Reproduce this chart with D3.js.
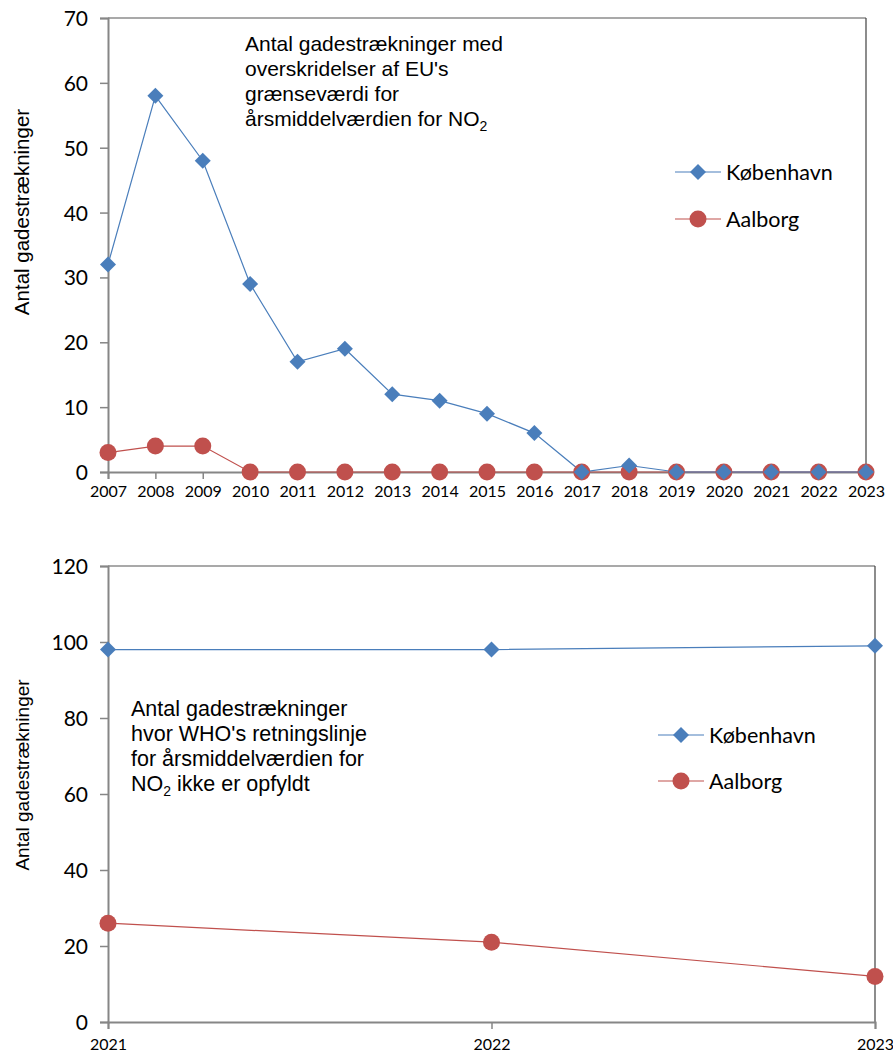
<!DOCTYPE html>
<html>
<head>
<meta charset="utf-8">
<script src="https://cdn.jsdelivr.net/npm/d3@7"></script>
<style>
  body { margin: 0; background: #fff; }
  svg { display: block; }
</style>
</head>
<body>
<svg id="chart" width="893" height="1057"></svg>
<script>
// Data for both panels
var years1 = [2007, 2008, 2009, 2010, 2011, 2012, 2013, 2014, 2015, 2016, 2017, 2018, 2019, 2020, 2021, 2022, 2023]
var kbh1 = [32, 58, 48, 29, 17, 19, 12, 11, 9, 6, 0, 1, 0, 0, 0, 0, 0]
var aal1 = [3, 4, 4, 0, 0, 0, 0, 0, 0, 0, 0, 0, 0, 0, 0, 0, 0]
var yTicks1 = [0, 10, 20, 30, 40, 50, 60, 70]

var years2 = [2021, 2022, 2023]
var kbh2 = [98, 98, 99]
var aal2 = [26, 21, 12]
var yTicks2 = [0, 20, 40, 60, 80, 100, 120]

var seriesNames = ["København", "Aalborg"]
var note1 = ["Antal gadestrækninger med", "overskridelser af EU's", "grænseværdi for", "årsmiddelværdien for NO|2"]
var note2 = ["Antal gadestrækninger", "hvor WHO's retningslinje", "for årsmiddelværdien for", "NO|2 ikke er opfyldt"]
var yTitle = "Antal gadestrækninger"

var blue = "#4a7ebb", red = "#c0504d", axisGray = "#868686"
var numFont = "Lato, 'Open Sans', sans-serif"
var textFont = "'Liberation Sans', Arial, sans-serif"

var svg = d3.select("#chart")

function panel(opts) {
    var g = svg.append("g")
    var x = d3.scalePoint().domain(opts.years).range([opts.left, opts.right])
    var y = d3.scaleLinear().domain([0, opts.yMax]).range([opts.bottom, opts.top])

    // frame: top (gray) and right (dark)
    g.append("line").attr("x1", opts.left).attr("x2", opts.right)
        .attr("y1", opts.top).attr("y2", opts.top)
        .attr("stroke", "#8c8c8c").attr("stroke-width", 1.5)
    g.append("line").attr("x1", opts.right).attr("x2", opts.right)
        .attr("y1", opts.top).attr("y2", opts.bottom)
        .attr("stroke", "#404040").attr("stroke-width", 1.2)

    var yAxis = g.append("g")
        .attr("transform", `translate(${opts.left},0)`)
        .call(d3.axisLeft(y).tickValues(opts.yTicks).tickSize(8).tickPadding(12))
    yAxis.select(".domain").attr("stroke", axisGray).attr("stroke-width", 2)
    yAxis.selectAll(".tick line").attr("stroke", axisGray).attr("stroke-width", 1.5)
    yAxis.selectAll("text").attr("font-family", numFont).attr("font-size", 21)
        .attr("fill", "#000").attr("dy", "0.36em")

    var xAxis = g.append("g")
        .attr("transform", `translate(0,${opts.bottom})`)
        .call(d3.axisBottom(x).tickSize(7).tickPadding(opts.xPad).tickFormat(d3.format("d")))
    xAxis.select(".domain").attr("stroke", axisGray).attr("stroke-width", 2)
    xAxis.selectAll(".tick line").attr("stroke", axisGray).attr("stroke-width", 1.5)
    xAxis.selectAll("text").attr("font-family", numFont).attr("font-size", 16).attr("fill", "#000")

    // y title
    g.append("text")
        .attr("transform", `translate(29,${opts.titleY})rotate(-90)`)
        .attr("text-anchor", "middle")
        .attr("font-family", textFont).attr("font-size", opts.titleSize)
        .text(yTitle)

    var line = d3.line().x((d, i) => x(opts.years[i])).y(d => y(d))

    g.append("path").datum(opts.aal).attr("d", line)
        .attr("fill", "none").attr("stroke", red).attr("stroke-width", 1.2)
    g.append("path").datum(opts.kbh).attr("d", line)
        .attr("fill", "none").attr("stroke", blue).attr("stroke-width", 1.2)

    g.selectAll(".aal").data(opts.aal).enter().append("circle")
        .attr("cx", (d, i) => x(opts.years[i])).attr("cy", d => y(d))
        .attr("r", 8.5).attr("fill", red)
    g.selectAll(".kbh").data(opts.kbh).enter().append("path")
        .attr("d", d3.symbol().type(d3.symbolSquare).size(128))
        .attr("transform", (d, i) => `translate(${x(opts.years[i])},${y(d)})rotate(45)`)
        .attr("fill", blue)

    // annotation
    var note = g.append("text").attr("font-family", textFont).attr("font-size", opts.noteSize).attr("fill", "#000")
    opts.note.forEach(function (s, i) {
        var t = note.append("tspan").attr("x", opts.noteX).attr("y", opts.noteY + i * 25)
        var parts = s.split("|")
        if (parts.length == 1) { t.text(s); return }
        var head = parts[0], sub = parts[1][0], rest = parts[1].slice(1)
        t.text(head)
        note.append("tspan").attr("font-size", 14).attr("dy", 5).text(sub)
        if (rest) note.append("tspan").attr("dy", -5).text(rest)
    })

    // legend
    var colors = [blue, red]
    seriesNames.forEach(function (name, i) {
        var ly = opts.legY + i * opts.legGap
        var lg = g.append("g")
        lg.append("line").attr("x1", opts.legX).attr("x2", opts.legX + 46)
            .attr("y1", ly).attr("y2", ly).attr("stroke", colors[i]).attr("stroke-width", 1.2)
        if (i == 0) {
            lg.append("path").attr("d", d3.symbol().type(d3.symbolSquare).size(128))
                .attr("transform", `translate(${opts.legX + 23},${ly})rotate(45)`).attr("fill", blue)
        } else {
            lg.append("circle").attr("cx", opts.legX + 23).attr("cy", ly).attr("r", 8.5).attr("fill", red)
        }
        lg.append("text").attr("x", opts.legX + 51).attr("y", ly).attr("dy", "0.35em")
            .attr("font-family", numFont).attr("font-size", 21.5).text(name)
    })
}

panel({
    years: years1, kbh: kbh1, aal: aal1, yTicks: yTicks1, yMax: 70,
    left: 108, right: 866, top: 18, bottom: 472, xPad: 7,
    titleY: 212, titleSize: 20.5,
    note: note1, noteX: 245, noteY: 51, noteSize: 21,
    legX: 675, legY: 172, legGap: 47
})

panel({
    years: years2, kbh: kbh2, aal: aal2, yTicks: yTicks2, yMax: 120,
    left: 108, right: 875, top: 566, bottom: 1022, xPad: 10,
    titleY: 775, titleSize: 19,
    note: note2, noteX: 131, noteY: 716, noteSize: 21.5,
    legX: 658, legY: 735, legGap: 46
})
</script>
</body>
</html>
